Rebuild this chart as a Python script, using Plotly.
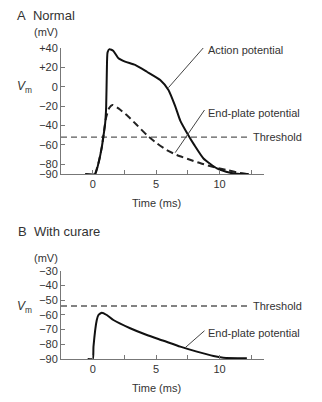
import plotly.graph_objects as go

# ---- data ----
ap_t = [-0.6, 0.19, 0.45, 0.72, 0.84, 0.98, 1.06, 1.11, 1.17, 1.32, 1.63, 2.03, 2.55, 3.34, 4.27, 5.32, 5.97, 6.5, 6.9, 7.42, 8.0, 8.73, 9.79, 10.83, 11.62, 12.3]
ap_v = [-90, -90, -79, -62, -51.5, -37.7, -20.6, 13.9, 35.5, 38.8, 37, 29.4, 25.9, 22.5, 15.5, 7, -3.3, -20, -35, -47.5, -60, -74, -84.2, -88.7, -90, -90]

epp_a_t = [0.19, 0.45, 0.72, 0.9, 1.05, 1.3, 1.55, 2.03, 2.82, 3.48, 4.27, 5.06, 5.84, 6.63, 7.5, 8.5, 9.6, 10.6, 11.6, 12.2]
epp_a_v = [-90, -79, -62, -45, -32, -22, -18.8, -22.3, -30.9, -39.5, -49.8, -58.4, -65.3, -70.4, -74.6, -79, -83, -86, -89, -90]

epp_b_t = [-0.4, 0.0, 0.06, 0.32, 0.45, 0.72, 1.11, 1.63, 2.95, 4.27, 5.58, 6.9, 8.21, 9.52, 10.3, 12.15]
epp_b_v = [-90, -90, -81.6, -63.5, -60.1, -58.5, -60.1, -63.5, -69.1, -73.7, -77.6, -81.6, -85, -88, -89.1, -89.5]

threshold_a = -52
threshold_b = -54
threshold_t = [-2.5, 12.35]

x_tickvals = [0, 2.5, 5, 7.5, 10, 12.5]
x_ticktext = ["0", "", "5", "", "10", ""]
ya_tickvals = [40, 20, 0, -20, -40, -60, -80, -90]
ya_ticktext = ["+40", "+20", "0", "\u221220", "\u221240", "\u221260", "\u221280", "\u221290"]
yb_tickvals = [-30, -40, -50, -60, -70, -80, -90]
yb_ticktext = ["\u221230", "\u221240", "\u221250", "\u221260", "\u221270", "\u221280", "\u221290"]

FONT = "Liberation Sans, Arial, sans-serif"
TXT = "#333333"
AX = "#777777"

fig = go.Figure()
fig.add_trace(go.Scatter(x=threshold_t, y=[threshold_a] * 2, mode="lines",
                         line=dict(color="#5a5a5a", width=1.4, dash="6px,4px"), xaxis="x", yaxis="y"))
fig.add_trace(go.Scatter(x=epp_a_t, y=epp_a_v, mode="lines",
                         line=dict(color="#222222", width=2, dash="7px,4px", shape="spline", smoothing=0.6),
                         xaxis="x", yaxis="y"))
fig.add_trace(go.Scatter(x=ap_t, y=ap_v, mode="lines",
                         line=dict(color="#111111", width=2, shape="spline", smoothing=0.5),
                         xaxis="x", yaxis="y"))
fig.add_trace(go.Scatter(x=threshold_t, y=[threshold_b] * 2, mode="lines",
                         line=dict(color="#5a5a5a", width=1.4, dash="6px,4px"), xaxis="x2", yaxis="y2"))
fig.add_trace(go.Scatter(x=epp_b_t, y=epp_b_v, mode="lines",
                         line=dict(color="#111111", width=2, shape="spline", smoothing=0.5),
                         xaxis="x2", yaxis="y2"))

xcommon = dict(range=[-2.5, 13.5], tickvals=x_tickvals, ticktext=x_ticktext, ticks="inside",
               ticklen=4, tickcolor=AX, showline=True, linecolor=AX, linewidth=1, showgrid=False,
               zeroline=False, tickfont=dict(family=FONT, size=11, color=TXT), fixedrange=True)
ycommon = dict(ticks="inside", ticklen=4, tickcolor=AX, showline=True, linecolor=AX, linewidth=1,
               showgrid=False, zeroline=False, tickfont=dict(family=FONT, size=11, color=TXT),
               fixedrange=True)

fig.update_layout(
    width=322, height=402,
    margin=dict(l=61, r=58, t=48, b=43),
    paper_bgcolor="white", plot_bgcolor="white",
    showlegend=False,
    xaxis=dict(domain=[0, 1], anchor="y", **xcommon),
    yaxis=dict(domain=[0.5949, 1], anchor="x", range=[-90, 40], tickvals=ya_tickvals,
               ticktext=ya_ticktext, **ycommon),
    xaxis2=dict(domain=[0, 1], anchor="y2", **xcommon),
    yaxis2=dict(domain=[0, 0.2839], anchor="x2", range=[-90, -30], tickvals=yb_tickvals,
                ticktext=yb_ticktext, **ycommon),
)

# leader lines
fig.add_shape(type="line", xref="x", yref="y", x0=8.73, y0=40.3, x1=5.97, y1=-0.9,
              line=dict(color="#444444", width=1))
fig.add_shape(type="line", xref="x", yref="y", x0=8.81, y0=-24, x1=6.5, y1=-68,
              line=dict(color="#444444", width=1))
fig.add_shape(type="line", xref="x2", yref="y2", x0=8.81, y0=-70.8, x1=7.29, y1=-82.3,
              line=dict(color="#444444", width=1))

def ann(text, x, y, xref, yref, xanchor="left", size=11):
    fig.add_annotation(text=text, x=x, y=y, xref=xref, yref=yref, xanchor=xanchor,
                       yanchor="middle", showarrow=False,
                       font=dict(family=FONT, size=size, color=TXT))

ann("Action potential", 8.95, 38, "x", "y")
ann("End-plate potential", 8.95, -27.4, "x", "y")
ann("Threshold", 12.45, threshold_a, "x", "y")
ann("Threshold", 12.45, threshold_b, "x2", "y2")
ann("End-plate potential", 8.95, -72.1, "x2", "y2")

ann("Time (ms)", 5, 0.5016, "x", "paper", xanchor="center")
ann("Time (ms)", 5, -0.0923, "x2", "paper", xanchor="center")

ann("A&nbsp; Normal", -0.2266, 1.106, "paper", "paper", size=13)
ann("B&nbsp; With curare", -0.2217, 0.4093, "paper", "paper", size=13)
ann("(mV)", -0.0739, 1.05, "paper", "paper", xanchor="center")
ann("(mV)", -0.0739, 0.3248, "paper", "paper", xanchor="center")
ann("<i>V</i><sub>m</sub>", -0.182, 0.8746, "paper", "paper", xanchor="center", size=12)
ann("<i>V</i><sub>m</sub>", -0.182, 0.168, "paper", "paper", xanchor="center", size=12)

fig.write_html("out.html")
